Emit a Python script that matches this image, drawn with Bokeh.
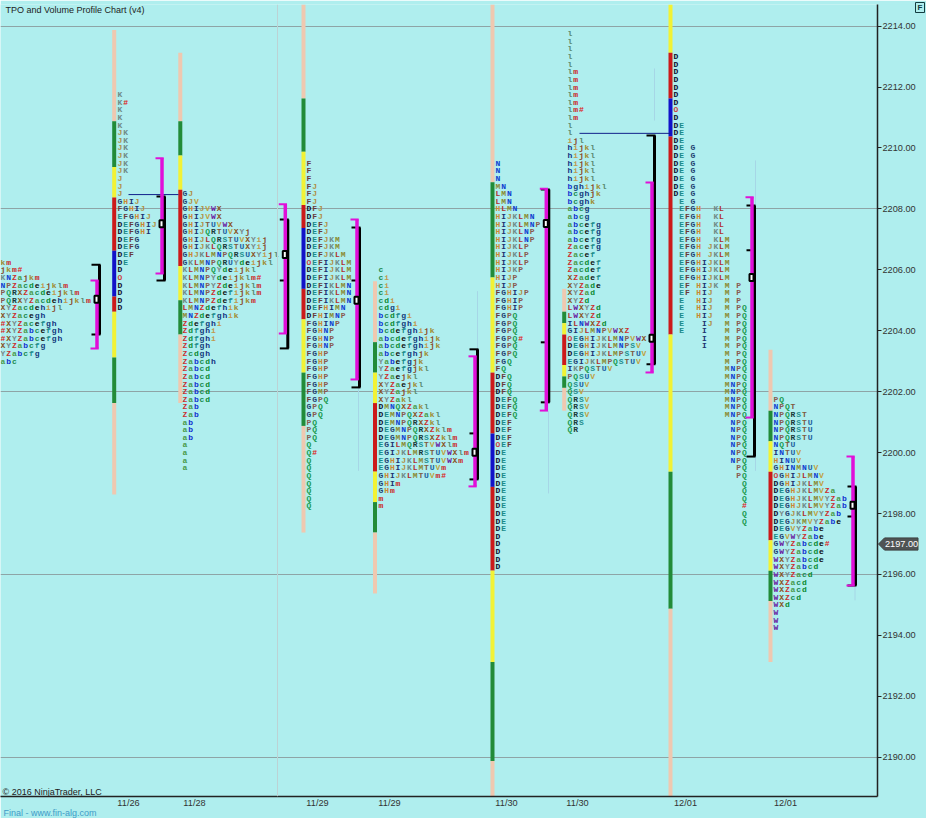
from bokeh.plotting import figure
from bokeh.layouts import column
from bokeh.models import (ColumnDataSource, Span, FixedTicker, PrintfTickFormatter)
from bokeh.core.properties import value
from bokeh.embed import file_html
from bokeh.resources import INLINE

# ---- data -----------------------------------------------------------------
price_ticks = [2190, 2192, 2194, 2196, 2198, 2200, 2202, 2204, 2206, 2208, 2210, 2212, 2214]
grid_prices = [2190, 2196, 2202, 2208, 2214]
date_labels = ["11/26", "11/28", "11/29", "11/29", "11/30", "11/30", "12/01", "12/01"]
last_price = 2197.00

tops = [2206.25, 2211.75, 2208.5, 2209.5, 2206.0, 2209.5, 2213.75, 2213.0, 2201.75]

rows_1 = ["km", "jkm#", "KNZajkm", "NPZacdeijklm", "PQRXZacdeijklm", "PQRXYZacdehijklm", "XYZacdehijl", "XYZacegh",
          "#XYZacefgh", "#XYZabcefgh", "#XYZabcefgh", "XYZabcfg", "YZabcfg", "abc"]
rows_2 = ["K", "K#", "K", "K", "K", "JK", "JK", "JK", "JK", "JK", "JK", "J", "J", "J", "GHIJ", "FGHIJ", "EFGHIJ",
          "DEFGHIJ", "DEFGHI", "DEFG", "DEFG", "DEF", "DE", "D", "O", "D", "D", "D", "D"]
rows_3 = ["GJ", "GJV", "GHIJVWX", "GHIJVWX", "GHIJTUVWX", "GHIJQRTUVXYj", "GHIJLQRSTUVXYij", "GHIJKLQRSTUXYij",
          "GHJKLMNPQRSUXYijl", "GKLMNPQRUYdeijkl", "KLMNPQYdeijkl", "KLMNPYdeijklm#", "KLMNPYZdeijklm",
          "KLMNPZdefijklm", "KLMNPZdefijkm", "LMNZdefhik", "MNZdefghik", "Zdefghi", "Zdfghi", "Zdfghi", "Zdfgh",
          "Zcdgh", "Zabcdh", "Zabcd", "Zabcd", "Zabcd", "Zabcd", "Zabcd", "Zab", "Zab", "ab", "ab", "ab",
          "a", "a", "a", "a"]
rows_4 = ["F", "F", "F", "FJ", "FJ", "FJ", "DFJ", "DFJ", "DEFJ", "DEFJ", "DEFJKM", "DEFJKM", "DEFJKLM", "OEFIJKLM",
          "DEFIJKLM", "DEFIJKLM", "DEFIKLMN", "DEFIKLMN", "DEFIKLMN", "DEFHIMN", "DFHIMNP", "FGHINP", "FGHNP",
          "FGHNP", "FGHNP", "FGHP", "FGHP", "FGHP", "FGHP", "FGHP", "FGMP", "FGPQ", "GPQ", "GPQ", "PQ", "PQ", "PQ",
          "Q", "Q#", "Q", "Q", "Q", "Q", "Q", "Q", "Q"]
rows_5 = ["c", "ci", "ci", "ci", "cdi", "cdgi", "bcdfgi", "bcdfghi", "bcdefghijk", "abcdefghijk", "abcdefghijk",
          "abcefghjk", "Yabefgjk", "YZaefgjkl", "YZaejkl", "XYZaejkl", "XYZajkl", "XYZakl", "DMNQXZakl",
          "DEMNPQXZakl", "DEMNPQRXZkl", "DEGMNPQRXZklm", "DEGMNPQRSXZklm", "EGILMQRSTVWXlm", "EGIJKLMRSTUVWXlm",
          "EGHIJKLMSTUVWXm", "EGHIJKLMTUVm", "GHIJKLMTUVm#", "GHIm", "GHm", "m", "m"]
rows_6 = ["N", "N", "N", "MN", "LMN", "LMN", "HLMN", "HIJKLMN", "HIJKLMNP", "HIJKLNP", "HIJKLNP", "HIJKLP", "HIJKLP",
          "HIJKLP", "HIJKP", "HIJP", "HIJP", "FGHIJP", "FGHIP", "FGHIP", "FGPQ", "FGPQ", "FGPQ", "FGPQ#", "FGPQ",
          "FGPQ", "FGQ", "FQ", "DFQ", "DFQ", "DFQ", "DEFQ", "DEFQ", "DEFQ", "DEF", "DEF", "DEF", "OEF",
          "DE", "DE", "DE", "DE", "DE", "DE", "DE", "DE", "DE", "DE", "DE", "D", "D", "D", "D", "D"]
rows_7 = ["l", "l", "l", "l", "l", "lm", "lm", "lm", "lm", "lm", "lm#", "lm", "l", "l", "ijl", "hijkl", "hijkl",
          "hijkl", "hijkl", "hijkl", "bghijkl", "bcghjk", "bcghk", "abcg", "abcg", "abcefg", "abcefg", "abcefg",
          "Zacefg", "Zacef", "Zacdef", "Zacdef", "XZadef", "XYZade", "XYZad", "XYZd", "LWXYZd", "LWXYZd", "ILNWXZd",
          "GIJLMNPVWXZ", "OEGHIJKLMNPVWX", "DEGHIJKLMNPSV", "DEGHIJKLMPSTUV", "EGIJKLMPQSTUV", "IKPQSTUV", "PQSUV",
          "QSUV", "QSV", "QRSV", "QRSV", "QRSV", "QRS", "QR"]
rows_8 = ["D", "D", "D", "D", "D", "D", "D", "O", "D", "DE", "DE", "DE", "DE G", "DE G", "DE G", "DE G", "DE G",
          "DE G", "DE G", " E G", " EFGH  KL", " EFGH  KL", " EFGH  KL", " EFGH  KL", " EFGH  KLM", " EFGH JKLM",
          " EFGH JKLM", " EFGHIJKLM", " EFGHIJKLM", " EFGHIJKLM", " EF HIJK M P", " EF HIJ  M P", " E  HIJ  M P",
          " E  HIJ  M PQ", " E  HIJ  M PQ", " E   IJ  M PQ", " E   I   M PQ", "     I   M PQ", "     I   M PQ",
          "         M PQ", "         M PQ", "         MNPQ", "         MNPQ", "         MNPQ", "         MNPQ",
          "         MNPQ", "         MNPQ", "         MNPQ", "          NPQ", "          NPQ", "          NPQ",
          "          NPQ", "          NPQ", "          NPQ", "           PQ", "           PQ", "            Q",
          "            Q", "            Q", "            #", "            Q", "            Q"]
rows_9 = ["PQ", "NPQT", "NPQRST", "NPQRSTU", "NPQRSTU", "NPQRSTU", "NQTU", "INTUV", "HINUV", "GHINMNUV", "OGHIJLMNV",
          "DGHIJKLMV", "DEGHJKLMVZa", "DEGHJKLMVYZab", "DEGHJKLMVYZab", "DYGJKLMVYZab", "DEGJKMVYZabe", "DEGVYZabe",
          "EGVWYZabe", "GWYZabcde#", "GWYZabcde", "WXYZabcde", "WXYZabcd", "WXYZacd", "WXZacd", "WXZacd", "WXZcd",
          "WXd", "W", "W", "W"]
all_rows = [rows_1, rows_2, rows_3, rows_4, rows_5, rows_6, rows_7, rows_8, rows_9]

# coloured range columns: price boundaries and the colour between each pair
band_6 = ["peach", "green", "yellow", "red", "yellow", "green", "peach"]
band_8 = ["peach", "green", "yellow", "red", "blue", "red", "yellow", "green", "peach"]
band_7 = ["yellow", "red", "blue", "red", "yellow", "green", "peach"]
levels_2 = [2213.875, 2210.875, 2209.375, 2208.375, 2206.625, 2205.125, 2204.625, 2203.125, 2201.625, 2198.625]
levels_3 = [2213.125, 2210.875, 2209.75, 2208.625, 2206.125, 2205.0, 2203.875, 2201.625]
levels_4 = [2214.75, 2211.625, 2209.875, 2208.125, 2207.375, 2205.375, 2204.375, 2202.625, 2200.875, 2197.375]
levels_5 = [2205.625, 2203.625, 2202.625, 2201.625, 2199.375, 2198.375, 2197.375, 2195.375]
levels_6 = [2214.75, 2208.875, 2205.75, 2202.625, 2200.625, 2198.875, 2196.125, 2193.125, 2189.875, 2188.6]
levels_7 = [2205.375, 2204.625, 2204.25, 2203.875, 2202.875, 2202.5, 2202.125, 2201.375]
levels_8 = [2214.75, 2213.125, 2211.625, 2210.375, 2203.875, 2199.375, 2194.875, 2188.6]
levels_9 = [2203.375, 2201.375, 2200.375, 2199.375, 2197.125, 2196.125, 2195.125, 2193.125]
columns = [(levels_2, band_8), (levels_3, band_6), (levels_4, band_8), (levels_5, band_6),
           (levels_6, band_8), (levels_7, band_6), (levels_8, band_7), (levels_9, band_6)]

black_top = [2206.17, 2208.41, 2207.65, 2207.39, 2203.39, 2208.64, 2210.41, 2208.11, 2198.89]
black_bot = [2203.88, 2205.65, 2203.42, 2202.14, 2199.12, 2201.65, 2202.90, 2199.87, 2195.64]
magenta_top = [2205.65, 2209.66, 2208.15, 2207.65, 2203.16, 2208.66, 2208.87, 2208.38, 2199.87]
magenta_bot = [2203.42, 2205.88, 2203.91, 2202.40, 2198.89, 2201.38, 2202.63, 2201.15, 2195.64]
poc = [2205.03, 2207.51, 2206.50, 2205.00, 2200.01, 2207.52, 2203.75, 2205.75, 2198.27]
inner_mark = [None, None, 2205.65, 2205.65, 2200.63, 2203.62, None, 2206.64, 2197.90]

naked_poc = [2208.47, 2210.48]
wick_top = [2212.61, 2209.59, 2199.87, 2201.38, 2195.64, 2202.14, 2205.30]
wick_bot = [2210.90, 2208.11, 2199.40, 2198.66, 2195.15, 2199.40, 2203.40]

# ---- layout and styles ----------------------------------------------------
text_x = [0, 117, 182, 306, 378, 495, 567, 673, 773]
col_x = [113.7, 179.8, 303, 374.5, 492, 563.7, 670, 770]
mag_x = [96.5, 161.5, 284.8, 356.5, 474.5, 545.8, 651.5, 751.5, 852.5]
date_x = [128, 194, 317, 389, 506, 577, 685, 785]
naked_x0 = [128, 579]
naked_x1 = [178, 670]
wick_x = [654, 755, 755, 548, 854.5, 358, 477]
PITCH = 5.7
BG = "#AFEEEE"
band_colors = dict(peach="#EFC8B0", green="#228B38", yellow="#F2F235", red="#CC1A1A", blue="#1212C8")
letter_colors = {
    "D": "#101030", "E": "#1a8a8a", "F": "#6a3a3a", "G": "#1f3f70", "H": "#cc8833", "I": "#203070", "J": "#b09048",
    "K": "#6f8a86", "L": "#b03030", "M": "#8a8a30", "N": "#1040d0", "O": "#cc4444", "P": "#8a5a50", "Q": "#1a9a50",
    "R": "#1a3a3a", "S": "#1f8f8f", "T": "#805a40", "U": "#2060a0", "V": "#c0a040", "W": "#6a20a0", "X": "#8a5020",
    "Y": "#7a8a8a", "Z": "#cc3030", "a": "#4a9a4a", "b": "#1030d0", "c": "#1a8a50", "d": "#0a8a30", "e": "#101010",
    "f": "#1a8a8a", "g": "#103a7a", "h": "#103080", "i": "#c09a50", "j": "#8a4a2a", "k": "#a08a30", "l": "#5a8a70",
    "m": "#cc2020", "#": "#dd2020",
}

p = figure(width=926, height=818, output_backend="svg", toolbar_location=None,
           x_range=(0, 877), y_range=(2188.71, 2214.71), y_axis_location="right",
           min_border_left=0, min_border_right=49, min_border_top=4, min_border_bottom=22,
           background_fill_color=BG, border_fill_color=BG, outline_line_color=None)
p.frame_align = False

p.xgrid.visible = False
p.ygrid.ticker = FixedTicker(ticks=grid_prices)
p.ygrid.grid_line_color = "#8ea4a6"
p.ygrid.grid_line_width = 1

ax = p.yaxis[0]
ax.ticker = FixedTicker(ticks=price_ticks)
ax.formatter = PrintfTickFormatter(format="%.2f")
ax.major_tick_out = 4
ax.major_tick_in = 0
ax.minor_tick_line_color = None
ax.major_tick_line_color = "#222222"
ax.axis_line_color = "#222222"
ax.axis_line_width = 1.5
ax.major_label_standoff = 1
ax.major_label_text_font = "Liberation Sans"
ax.major_label_text_font_size = "9.2px"
ax.major_label_text_color = "#333333"

bx = p.xaxis[0]
bx.ticker = FixedTicker(ticks=date_x)
bx.major_label_overrides = {x: s for x, s in zip(date_x, date_labels)}
bx.major_tick_line_color = None
bx.minor_tick_line_color = None
bx.major_tick_out = 0
bx.major_tick_in = 0
bx.axis_line_color = "#222222"
bx.axis_line_width = 1.5
bx.major_label_standoff = 1
bx.major_label_text_font = "Liberation Sans"
bx.major_label_text_font_size = "9.2px"
bx.major_label_text_color = "#333333"

p.add_layout(Span(location=277, dimension="height", line_color="#bcd2d4", line_width=1))

# faint wicks
p.segment(wick_x, wick_top, wick_x, wick_bot, line_color="#a6d6e6", line_width=1)

# coloured range columns
cx, ct, cb, cc = [], [], [], []
for x, (levels, band) in zip(col_x, columns):
    for i, name in enumerate(band):
        cx.append(x); ct.append(levels[i]); cb.append(levels[i + 1]); cc.append(band_colors[name])
p.vbar(x=cx, top=ct, bottom=cb, width=4, fill_color=cc, line_color=None)

# naked POC lines
p.segment(naked_x0, naked_poc, naked_x1, naked_poc, line_color="#10208a", line_width=1)

# TPO letters
lx, ly, lt, lc = [], [], [], []
for x0, top, rows in zip(text_x, tops, all_rows):
    for i, row in enumerate(rows):
        for j, ch in enumerate(row):
            if ch == " ":
                continue
            lx.append(x0 + j * PITCH); ly.append(top - i * 0.25); lt.append(ch); lc.append(letter_colors[ch])
src = ColumnDataSource(dict(x=lx, y=ly, t=lt, c=lc))
p.text(x="x", y="y", text="t", text_color="c", source=src, text_font=value("Liberation Mono"),
       text_font_size="8px", text_font_style="bold", text_align="left", text_baseline="middle")

# black brackets
bxs = [m + 2.5 for m in mag_x]
p.segment(bxs, black_top, bxs, black_bot, line_color="#000000", line_width=3)
p.segment([x - 8 for x in bxs], black_top, [x + 1 for x in bxs], black_top, line_color="#000000", line_width=2)
p.segment([x - 8 for x in bxs], black_bot, [x + 1 for x in bxs], black_bot, line_color="#000000", line_width=2)
im = [(x, v) for x, v in zip(bxs, inner_mark) if v is not None]
p.segment([a - 8 for a, _ in im], [v for _, v in im], [a for a, _ in im], [v for _, v in im],
          line_color="#000000", line_width=2)

# magenta brackets
p.segment(mag_x, magenta_top, mag_x, magenta_bot, line_color="#E010D8", line_width=3.5)
p.segment([x - 6.5 for x in mag_x], magenta_top, [x + 1.7 for x in mag_x], magenta_top, line_color="#E010D8", line_width=2)
p.segment([x - 6.5 for x in mag_x], magenta_bot, [x + 1.7 for x in mag_x], magenta_bot, line_color="#E010D8", line_width=2)

# POC boxes
p.rect(x=[m - 0.5 for m in mag_x], y=poc, width=4, height=7, width_units="screen", height_units="screen",
       fill_color="#FFFFFF", line_color="#000000", line_width=2)

# ---- transparent sheet over the whole page for the captions and the price tag ----
SCALE = 30.46
TOP_PRICE = 2214 + 25.7 / SCALE
def py(px):
    return TOP_PRICE - px / SCALE

sheet = figure(width=926, height=818, output_backend="svg", toolbar_location=None,
               x_range=(0, 926), y_range=(py(818), TOP_PRICE), x_axis_type=None, y_axis_type=None,
               min_border=0, background_fill_color=None, border_fill_color=None, outline_line_color=None)
sheet.margin = (-818, 0, 0, 0)
sheet.frame_align = False
sheet.xgrid.visible = False
sheet.ygrid.visible = False

sheet.text(x=[5, 2, 3], y=[py(9), py(791), py(812)],
           text=["TPO and Volume Profile Chart (v4)", "\u00a9 2016 NinjaTrader, LLC", "Final - www.fin-alg.com"],
           text_color=["#222222", "#222222", "#3f9cc8"], text_font=value("Liberation Sans"),
           text_font_size="9px", text_baseline="middle", text_align="left")

# F box
sheet.quad(left=915, right=924, top=py(2), bottom=py(12), fill_color=None, line_color="#123c40", line_width=1)
sheet.text(x=[919.5], y=[py(7)], text=["F"], text_color="#123c40", text_font=value("Liberation Sans"),
           text_font_size="8px", text_font_style="bold", text_baseline="middle", text_align="center")

# last price tag
sheet.patch(x=[878, 884, 917.5, 917.5, 884], y=[last_price, last_price + 0.2, last_price + 0.2, last_price - 0.2, last_price - 0.2],
            fill_color="#4f5454", line_color="#3d4242", line_width=1)
sheet.text(x=[884.5], y=[last_price], text=["%.2f" % last_price], text_color="#FFFFFF",
           text_font=value("Liberation Sans"), text_font_size="9.2px",
           text_baseline="middle", text_align="left")

page = column(p, sheet, spacing=0)
open("out.html", "w").write(file_html(page, INLINE))
